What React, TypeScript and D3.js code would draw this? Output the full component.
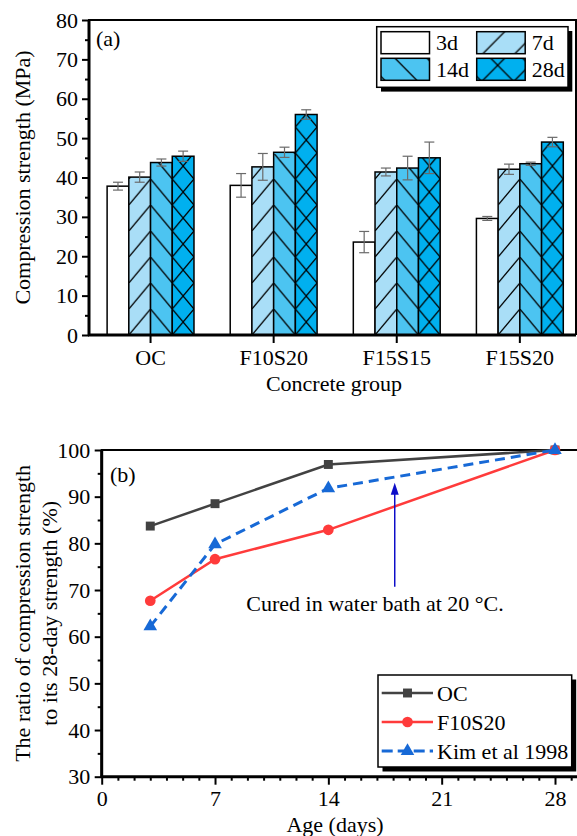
import React, { useEffect, useRef } from 'react';
import * as d3 from 'd3';

// (a) compressive strength, MPa
const groups = ['OC', 'F10S20', 'F15S15', 'F15S20'];
const ages = ['3d', '7d', '14d', '28d'];
const strength3d = [37.8, 38.0, 23.6, 29.6];
const strength7d = [40.1, 42.7, 41.4, 42.1];
const strength14d = [43.8, 46.4, 42.4, 43.5];
const strength28d = [45.4, 56.0, 45.0, 49.0];
const err3d = [1.0, 3.0, 2.7, 0.5];
const err7d = [1.3, 3.4, 1.0, 1.3];
const err14d = [0.9, 1.3, 3.0, 0.4];
const err28d = [1.3, 1.2, 4.0, 1.2];
const topYTicks = [0, 10, 20, 30, 40, 50, 60, 70, 80];
const topYMinor = [5, 15, 25, 35, 45, 55, 65, 75];

// (b) ratio to 28-day strength, %
const days = [3, 7, 14, 28];
const ratioOC = [83.7, 88.5, 96.9, 100];
const ratioF10S20 = [67.7, 76.6, 82.9, 100];
const ratioKim = [62.2, 79.8, 91.8, 100];
const botXTicks = [0, 7, 14, 21, 28];
const botYTicks = [30, 40, 50, 60, 70, 80, 90, 100];
const botYMinor = [35, 45, 55, 65, 75, 85, 95];

const FONT = "Liberation Serif, Times New Roman, Times, DejaVu Serif, serif";
const FS = 22;
const fills = ['#ffffff', '#a9def7', '#4cc4f1', '#00b0ef'];
const hatch = ['none', 'fwd', 'back', 'cross'];

export default function App() {
  const ref = useRef<SVGSVGElement>(null);

  useEffect(() => {
    if (!ref.current) return;
    const svg = d3.select(ref.current);
    svg.selectAll('*').remove();
    const defs = svg.append('defs');

    const addPattern = (id: string, kind: string, color: string, x: number, y: number, w: number, h: number) => {
      const p = defs.append('pattern')
        .attr('id', id)
        .attr('patternUnits', 'userSpaceOnUse')
        .attr('x', x).attr('y', y)
        .attr('width', w).attr('height', h);
      p.append('rect').attr('width', w).attr('height', h).attr('fill', color);
      if (kind === 'fwd' || kind === 'cross') {
        p.append('line').attr('x1', -1).attr('y1', h + 1.2).attr('x2', w + 1).attr('y2', -1.2)
          .attr('stroke', '#000').attr('stroke-width', 1.3);
      }
      if (kind === 'back' || kind === 'cross') {
        p.append('line').attr('x1', -1).attr('y1', -1.2).attr('x2', w + 1).attr('y2', h + 1.2)
          .attr('stroke', '#000').attr('stroke-width', 1.3);
      }
    };

    // ---------- panel (a) ----------
    const a = { left: 89, right: 576, top: 20, bottom: 335 };
    const x0 = d3.scaleBand().domain(groups).range([a.left, a.left + 4 * 123.1]);
    const x1 = d3.scaleBand().domain(ages).range([0, x0.bandwidth()]).paddingOuter(0.834);
    const y = d3.scaleLinear().domain([0, 80]).range([a.bottom, a.top]);

    const series = [strength3d, strength7d, strength14d, strength28d];
    const errs = [err3d, err7d, err14d, err28d];

    const bars = svg.append('g');
    groups.forEach((g, i) => {
      ages.forEach((age, j) => {
        const bx = (x0(g) as number) + (x1(age) as number);
        const bw = x1.bandwidth();
        const v = series[j][i];
        let fill = fills[j];
        if (hatch[j] !== 'none') {
          const id = `p-${i}-${j}`;
          addPattern(id, hatch[j], fills[j], bx, y(0), bw, 26);
          fill = `url(#${id})`;
        }
        bars.append('rect')
          .attr('x', bx).attr('y', y(v))
          .attr('width', bw).attr('height', y(0) - y(v))
          .attr('fill', fill).attr('stroke', '#000').attr('stroke-width', 1.5);
      });
    });

    // error bars
    const eg = svg.append('g').attr('stroke', '#6a6a6a').attr('stroke-width', 1.2);
    groups.forEach((g, i) => {
      ages.forEach((age, j) => {
        const cx = (x0(g) as number) + (x1(age) as number) + x1.bandwidth() / 2;
        const v = series[j][i];
        const e = errs[j][i];
        eg.append('line').attr('x1', cx).attr('x2', cx).attr('y1', y(v + e)).attr('y2', y(v - e));
        eg.append('line').attr('x1', cx - 5).attr('x2', cx + 5).attr('y1', y(v + e)).attr('y2', y(v + e));
        eg.append('line').attr('x1', cx - 5).attr('x2', cx + 5).attr('y1', y(v - e)).attr('y2', y(v - e));
      });
    });

    // axes (a)
    const styleAxis = (sel: any) => {
      sel.attr('font-family', FONT).attr('font-size', FS);
      sel.select('.domain').remove();
      sel.selectAll('line').attr('stroke', '#000').attr('stroke-width', 2);
      sel.selectAll('text').attr('fill', '#000');
    };
    svg.append('g').attr('transform', `translate(${a.left},0)`)
      .call(d3.axisLeft(y).tickValues(topYTicks).tickSize(7).tickPadding(4).tickSizeOuter(0))
      .call(styleAxis);
    svg.append('g').attr('transform', `translate(${a.left},0)`)
      .call(d3.axisLeft(y).tickValues(topYMinor).tickSize(4).tickFormat(() => '').tickSizeOuter(0))
      .call(styleAxis);
    svg.append('g').attr('transform', `translate(0,${a.bottom})`)
      .call(d3.axisBottom(x0).tickSize(8).tickPadding(6.5).tickSizeOuter(0))
      .call(styleAxis);

    svg.append('path')
      .attr('d', `M${a.left},${a.bottom}V${a.top}H${a.right}V${a.bottom}`)
      .attr('fill', 'none').attr('stroke', '#000').attr('stroke-width', 2);
    svg.append('line')
      .attr('x1', a.left - 1).attr('x2', a.right).attr('y1', a.bottom).attr('y2', a.bottom)
      .attr('stroke', '#000').attr('stroke-width', 3);
    svg.append('line')
      .attr('x1', a.left).attr('x2', a.left).attr('y1', a.top).attr('y2', a.bottom + 1)
      .attr('stroke', '#000').attr('stroke-width', 3);

    const txt = (sel: any) => sel.attr('font-family', FONT).attr('font-size', FS).attr('fill', '#000');

    svg.append('text').attr('x', 96).attr('y', 46).text('(a)').call(txt);
    svg.append('text').attr('transform', `translate(30,${(a.top + a.bottom) / 2}) rotate(-90)`)
      .attr('text-anchor', 'middle').call(txt)
      .text('Compression strength (MPa)');
    svg.append('text').attr('x', 334).attr('y', 391)
      .attr('text-anchor', 'middle').call(txt)
      .text('Concrete group');

    // legend (a)
    const la = svg.append('g');
    la.append('rect').attr('x', 381).attr('y', 31).attr('width', 191.3).attr('height', 60.6).attr('fill', '#000');
    la.append('rect').attr('x', 376.7).attr('y', 26.7).attr('width', 191.3).attr('height', 60.6)
      .attr('fill', '#fff').attr('stroke', '#000').attr('stroke-width', 1.5);
    const legPos = [[381, 31.7], [476.7, 31.7], [381, 58.3], [476.7, 58.3]];
    ages.forEach((age, j) => {
      const [lx, ly] = legPos[j];
      let fill = fills[j];
      if (hatch[j] !== 'none') {
        const id = `lg-${j}`;
        addPattern(id, hatch[j], fills[j], lx + 5, ly + 23, 32, 32);
        fill = `url(#${id})`;
      }
      la.append('rect').attr('x', lx).attr('y', ly).attr('width', 48.5).attr('height', 22)
        .attr('fill', fill).attr('stroke', '#000').attr('stroke-width', 1.5);
      la.append('text').attr('x', lx + 55).attr('y', ly + 18.5).text(age).call(txt);
    });

    // ---------- panel (b) ----------
    const b = { left: 101.7, right: 580, top: 450, bottom: 776.7 };
    const xb = d3.scaleLinear().domain([0, 28]).range([b.left, 555]);
    const yb = d3.scaleLinear().domain([30, 100]).range([b.bottom, b.top]);

    svg.append('g').attr('transform', `translate(${b.left},0)`)
      .call(d3.axisLeft(yb).tickValues(botYTicks).tickSize(7).tickPadding(4.5).tickSizeOuter(0))
      .call(styleAxis);
    svg.append('g').attr('transform', `translate(${b.left},0)`)
      .call(d3.axisLeft(yb).tickValues(botYMinor).tickSize(4).tickFormat(() => '').tickSizeOuter(0))
      .call(styleAxis);
    svg.append('g').attr('transform', `translate(0,${b.bottom})`)
      .call(d3.axisBottom(xb).tickValues(botXTicks).tickSize(8).tickPadding(5.5).tickSizeOuter(0))
      .call(styleAxis);
    svg.append('g').attr('transform', `translate(0,${b.bottom})`)
      .call(d3.axisBottom(xb).tickValues(d3.range(1, 30).filter(d => d % 7 !== 0)).tickSize(4)
        .tickFormat(() => '').tickSizeOuter(0))
      .call(styleAxis);

    svg.append('path')
      .attr('d', `M${b.left},${b.bottom}V${b.top}H${b.right}`)
      .attr('fill', 'none').attr('stroke', '#000').attr('stroke-width', 2);
    svg.append('line')
      .attr('x1', b.left - 1).attr('x2', b.right).attr('y1', b.bottom).attr('y2', b.bottom)
      .attr('stroke', '#000').attr('stroke-width', 3);
    svg.append('line')
      .attr('x1', b.left).attr('x2', b.left).attr('y1', b.top).attr('y2', b.bottom + 1)
      .attr('stroke', '#000').attr('stroke-width', 3);

    const line = d3.line<[number, number]>().x(d => xb(d[0])).y(d => yb(d[1]));
    const zip = (vals: number[]) => days.map((d, i) => [d, vals[i]] as [number, number]);

    const lines = [
      { name: 'OC', vals: ratioOC, color: '#424242', dash: null, shape: d3.symbolSquare, size: 80, width: 2.5 },
      { name: 'F10S20', vals: ratioF10S20, color: '#ff3b3b', dash: null, shape: d3.symbolCircle, size: 90, width: 2.5 },
      { name: 'Kim et al 1998', vals: ratioKim, color: '#1769d6', dash: '10,6', shape: d3.symbolTriangle, size: 80, width: 3 },
    ];

    lines.forEach(s => {
      svg.append('path').attr('d', line(zip(s.vals)) as string)
        .attr('fill', 'none').attr('stroke', s.color).attr('stroke-width', s.width)
        .attr('stroke-dasharray', s.dash);
      svg.append('g').selectAll('path').data(zip(s.vals)).enter().append('path')
        .attr('transform', d => `translate(${xb(d[0])},${yb(d[1])})`)
        .attr('d', d3.symbol().type(s.shape).size(s.size)() as string)
        .attr('fill', s.color);
    });

    // annotation
    const arrowDay = 18.1;
    const arrowFrom = 70.7;
    const arrowTo = 93.0;
    svg.append('line').attr('x1', xb(arrowDay)).attr('x2', xb(arrowDay))
      .attr('y1', yb(arrowFrom)).attr('y2', yb(arrowTo) + 8)
      .attr('stroke', '#0d0dc8').attr('stroke-width', 1.5);
    svg.append('path')
      .attr('d', `M${xb(arrowDay)},${yb(arrowTo)}l-4,12h8z`)
      .attr('fill', '#0d0dc8');
    svg.append('text').attr('x', 375).attr('y', yb(65.4))
      .attr('text-anchor', 'middle').call(txt)
      .text('Cured in water bath at 20 °C.');

    svg.append('text').attr('x', 110).attr('y', 482).text('(b)').call(txt);
    const midB = (b.top + b.bottom) / 2;
    svg.append('text').attr('transform', `translate(30,${midB}) rotate(-90)`)
      .attr('text-anchor', 'middle').call(txt)
      .text('The ratio of compression strength');
    svg.append('text').attr('transform', `translate(57,${midB}) rotate(-90)`)
      .attr('text-anchor', 'middle').call(txt)
      .text('to its 28-day strength (%)');
    svg.append('text').attr('x', 335).attr('y', 832)
      .attr('text-anchor', 'middle').call(txt)
      .text('Age (days)');

    // legend (b)
    const lb = svg.append('g');
    lb.append('rect').attr('x', 382.5).attr('y', 679.5).attr('width', 193.7).attr('height', 92).attr('fill', '#000');
    lb.append('rect').attr('x', 378).attr('y', 675).attr('width', 193.7).attr('height', 92)
      .attr('fill', '#fff').attr('stroke', '#000').attr('stroke-width', 1.5);
    const rowY = [693, 722, 751];
    lines.forEach((s, k) => {
      const cy = rowY[k];
      lb.append('line').attr('x1', 381.7).attr('x2', 433).attr('y1', cy).attr('y2', cy)
        .attr('stroke', s.color).attr('stroke-width', s.width)
        .attr('stroke-dasharray', s.dash ? '11,5' : null);
      lb.append('path').attr('transform', `translate(407.5,${cy})`)
        .attr('d', d3.symbol().type(s.shape).size(s.size)() as string)
        .attr('fill', s.color);
      lb.append('text').attr('x', 437).attr('y', cy + 7.5).text(s.name).call(txt);
    });
  }, []);

  return (
    <svg ref={ref} width={577} height={836}
      style={{ position: 'absolute', left: 0, top: 0, background: '#fff' }} />
  );
}
